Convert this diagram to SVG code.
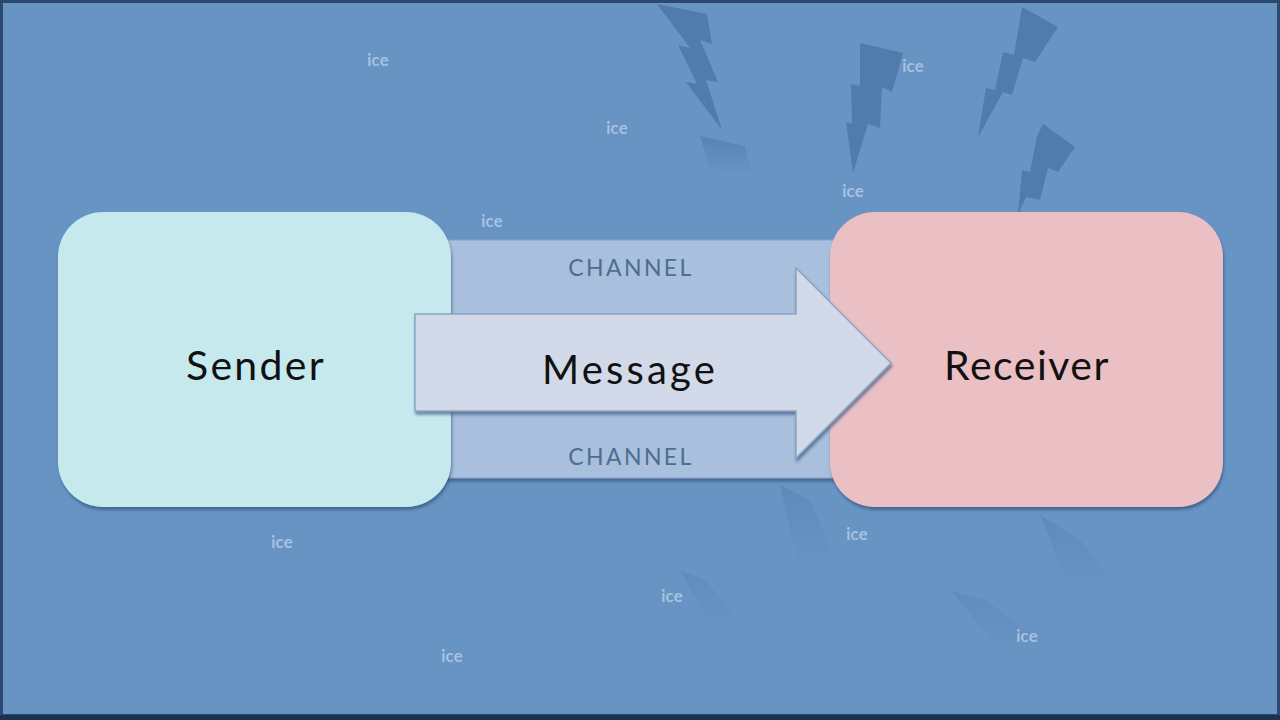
<svg xmlns="http://www.w3.org/2000/svg" width="1280" height="720" viewBox="0 0 1280 720">
<defs>
<style>
.bolt{fill:#4d77a9;opacity:0.85}
.boltf{fill:url(#fade);}
.ice{font-family:Lato,"DejaVu Sans",sans-serif;font-size:17px;font-weight:bold;fill:#c8dcf0;opacity:0.65;text-anchor:middle}
.lbl{font-family:Lato,"Open Sans",sans-serif;fill:#111;text-anchor:middle}
.ch{font-family:Lato,"Open Sans",sans-serif;font-size:23px;fill:#4e6d92;text-anchor:middle;letter-spacing:2.4px}
</style>
<linearGradient id="fade" x1="0" y1="0" x2="0" y2="1">
<stop offset="0" stop-color="#4d77a9" stop-opacity="0.6"/>
<stop offset="1" stop-color="#4d77a9" stop-opacity="0"/>
</linearGradient>
<filter id="sh" x="-10%" y="-10%" width="120%" height="120%">
<feDropShadow dx="1" dy="3" stdDeviation="1.5" flood-color="#2c4a70" flood-opacity="0.6"/>
</filter>
</defs>
<rect x="0" y="0" width="1280" height="720" fill="#6894c4"/>
<rect x="1.5" y="1.5" width="1277" height="714" fill="none" stroke="#2a4870" stroke-width="3"/>
<rect x="0" y="715" width="1280" height="5" fill="#1c3150"/>
<g id="bolts">
<polygon class="bolt" points="657,4 707,14 712,44 700,40 718,82 706,80 722,130 686,82 697,84 678,45 690,48"/>
<polygon class="boltf" points="700,136 745,146 752,175 710,168"/>
<polygon class="bolt" points="860,43 903,53 892,92 882,87 880,128 868,124 853,173 846,122 852,124 851,84 860,86"/>
<polygon class="bolt" points="1022,7 1058,27 1035,62 1023,58 1012,95 1003,92 978,137 986,88 995,90 1003,52 1014,55"/>
<polygon class="bolt" points="1043,124 1075,147 1058,172 1048,168 1040,200 1026,197 1018,215 1022,170 1030,172 1037,136"/>
<polygon class="boltf" points="780,485 810,500 835,560 800,570" opacity="0.6"/>
<polygon class="boltf" points="1040,515 1080,540 1110,580 1070,590" opacity="0.6"/>
<polygon class="boltf" points="950,590 985,600 1040,640 1000,650" opacity="0.5"/>
<polygon class="boltf" points="680,570 705,580 735,615 710,625" opacity="0.5"/>
</g>
<g id="ice">
<text class="ice" x="378" y="66">ice</text>
<text class="ice" x="617" y="134">ice</text>
<text class="ice" x="492" y="227">ice</text>
<text class="ice" x="913" y="72">ice</text>
<text class="ice" x="853" y="197">ice</text>
<text class="ice" x="282" y="548">ice</text>
<text class="ice" x="857" y="540">ice</text>
<text class="ice" x="672" y="602">ice</text>
<text class="ice" x="452" y="662">ice</text>
<text class="ice" x="1027" y="642">ice</text>
</g>
<g id="channel">
<rect x="440" y="240" width="400" height="238" fill="#a8bfdd" stroke="#86a2c6" stroke-width="1" filter="url(#sh)"/>
<text class="ch" x="631" y="276">CHANNEL</text>
<text class="ch" x="631" y="465">CHANNEL</text>
</g>
<g id="sender">
<rect x="58" y="212" width="393" height="295" rx="45" ry="45" fill="#c6e9ee" filter="url(#sh)"/>
<text class="lbl" x="256" y="380" font-size="41" letter-spacing="2.3">Sender</text>
</g>
<g id="receiver">
<rect x="830" y="212" width="393" height="295" rx="45" ry="45" fill="#ebc0c5" filter="url(#sh)"/>
<text class="lbl" x="1027" y="380" font-size="41" letter-spacing="1.5">Receiver</text>
</g>
<g id="connectors">
<g id="message">
<polygon points="415,314 796,314 796,268 891,363 796,458 796,411 415,411" fill="#d2dae9" stroke="#8fa3c0" stroke-width="1.5" filter="url(#sh)"/>
<text class="lbl" x="630" y="384" font-size="40" letter-spacing="3.2">Message</text>
</g>
</g>
</svg>
